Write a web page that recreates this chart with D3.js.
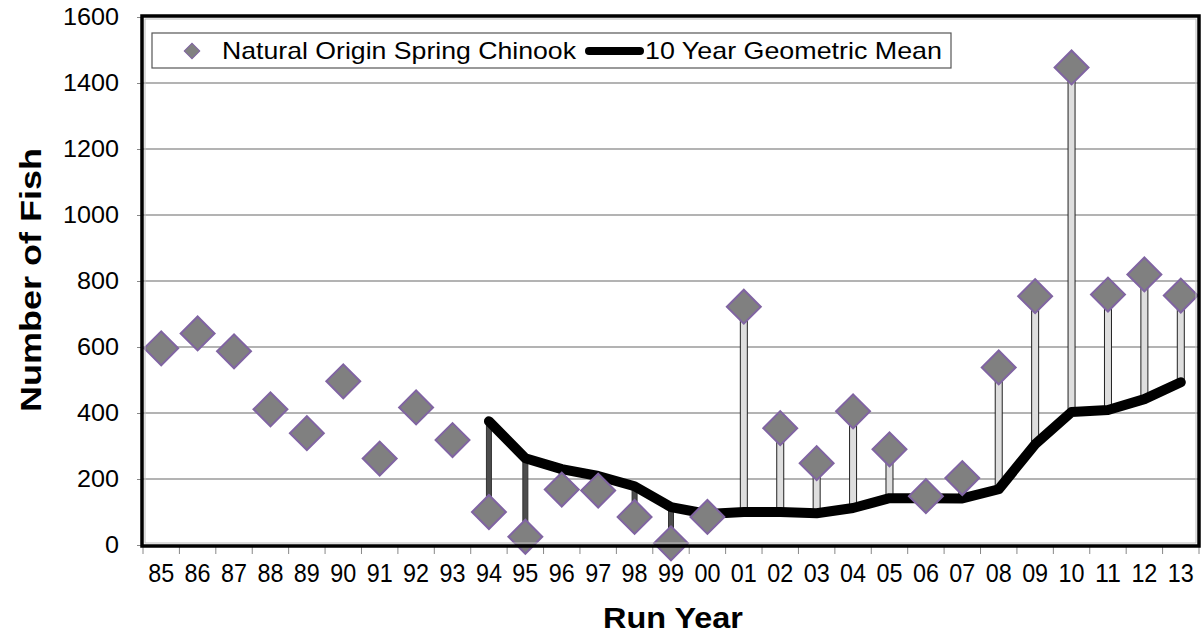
<!DOCTYPE html>
<html><head><meta charset="utf-8">
<script src="https://cdn.jsdelivr.net/npm/d3@7"></script>
<style>body{margin:0;background:#fff}svg{display:block}text{font-family:"Liberation Sans",Arial,sans-serif}</style>
</head><body><svg id="c" width="1203" height="634"></svg>
<script>
const years = ["85","86","87","88","89","90","91","92","93","94","95","96","97","98","99","00","01","02","03","04","05","06","07","08","09","10","11","12","13"];
const counts = [596,641,587,411,339,496,262,417,318,100,25,168,165,85,5,85,722,354,248,405,290,148,203,538,754,1447,759,820,756];
const geoMean = [null,null,null,null,null,null,null,null,null,375,263,230,209,178,115,94,100,100,96,112,142,142,141,169,305,403,409,442,493];
const yTicks = [0,200,400,600,800,1000,1200,1400,1600];
const seriesNames = ["Natural Origin Spring Chinook","10 Year Geometric Mean"];

const svg = d3.select("#c");
const L = 143, R = 1199, T = 17, B = 545;
const x = d3.scaleBand().domain(years).range([L, R]).paddingInner(0).paddingOuter(0);
const y = d3.scaleLinear().domain([0,1600]).range([B, T]);
const cx = d => x(d) + x.bandwidth()/2;

// gridlines
svg.append("g").selectAll("line").data(yTicks.filter(v=>v>0&&v<1600)).join("line")
  .attr("x1", L).attr("x2", R).attr("y1", d=>y(d)).attr("y2", d=>y(d))
  .attr("stroke", "#9a9a9a").attr("stroke-width", 1.3);

// y axis
const ya = svg.append("g").attr("transform", `translate(${L},0)`)
  .call(d3.axisLeft(y).tickValues(yTicks).tickSize(6).tickPadding(18).tickFormat(d3.format("d")));
ya.select(".domain").remove();
ya.selectAll("line").attr("stroke", "#888");
ya.selectAll("text").attr("font-size", 24).attr("fill", "#000")
  .attr("textLength", d => String(d).length * 14).attr("lengthAdjust","spacingAndGlyphs");

// x axis
const xa = svg.append("g").attr("transform", `translate(0,${B})`);
xa.selectAll("line").data(d3.range(years.length+1)).join("line")
  .attr("x1", i => L + i*x.bandwidth()).attr("x2", i => L + i*x.bandwidth())
  .attr("y1", 0).attr("y2", 9).attr("stroke", "#888");
xa.selectAll("text").data(years).join("text")
  .attr("x", d => cx(d)).attr("y", 37).attr("text-anchor","middle")
  .attr("font-size", 25).attr("fill","#000")
  .attr("textLength", 26).attr("lengthAdjust","spacingAndGlyphs").text(d=>d);

// bars between mean and count
const idx = d3.range(years.length).filter(i => geoMean[i] != null);
svg.append("g").selectAll("rect").data(idx).join("rect")
  .attr("x", i => cx(years[i]) - (counts[i] > geoMean[i] ? 3.5 : 2.5))
  .attr("width", i => counts[i] > geoMean[i] ? 7 : 5)
  .attr("y", i => y(Math.max(counts[i], geoMean[i])))
  .attr("height", i => Math.abs(y(counts[i]) - y(geoMean[i])))
  .attr("fill", i => counts[i] > geoMean[i] ? "#dedede" : "#4d4d4d")
  .attr("stroke", i => counts[i] > geoMean[i] ? "#222" : "#333")
  .attr("stroke-width", 1);

// mean line
const line = d3.line().defined(d => d.v != null).x(d => cx(d.k)).y(d => y(d.v));
svg.append("path").datum(years.map((k,i)=>({k, v: geoMean[i]})))
  .attr("d", line).attr("fill","none").attr("stroke","#000").attr("stroke-width",10)
  .attr("stroke-linejoin","round").attr("stroke-linecap","round");

// diamonds
const dia = d3.symbol().type(d3.symbolSquare).size(24*24);
svg.append("g").selectAll("path").data(years.map((k,i)=>({k, v: counts[i]}))).join("path")
  .attr("d", dia).attr("transform", d => `translate(${cx(d.k)},${y(d.v)}) rotate(45)`)
  .attr("fill","#808080").attr("stroke","#8064a2").attr("stroke-width",2);

// plot border
svg.append("rect").attr("x", L-1).attr("y", T-1).attr("width", R-L+1).attr("height", B-T+2)
  .attr("fill","none").attr("stroke","#000").attr("stroke-width",3.5);
svg.append("rect").attr("x", L+2).attr("y", T+2).attr("width", R-L-5).attr("height", B-T-4)
  .attr("fill","none").attr("stroke","#bbb").attr("stroke-width",1);

// legend
const lg = svg.append("g");
lg.append("rect").attr("x",152).attr("y",33).attr("width",799).attr("height",35)
  .attr("fill","#fff").attr("stroke","#555").attr("stroke-width",1.2);
lg.append("path").attr("d", d3.symbol().type(d3.symbolSquare).size(11*11))
  .attr("transform","translate(192,51) rotate(45)").attr("fill","#808080").attr("stroke","#8064a2").attr("stroke-width",1);
lg.append("text").attr("x",222).attr("y",59).attr("font-size",24)
  .attr("textLength",354).attr("lengthAdjust","spacingAndGlyphs").text(seriesNames[0]);
lg.append("line").attr("x1",589).attr("x2",640).attr("y1",51).attr("y2",51)
  .attr("stroke","#000").attr("stroke-width",8).attr("stroke-linecap","round");
lg.append("text").attr("x",645).attr("y",59).attr("font-size",24)
  .attr("textLength",297).attr("lengthAdjust","spacingAndGlyphs").text(seriesNames[1]);

// axis titles
svg.append("text").attr("x", 673).attr("y", 628).attr("text-anchor","middle")
  .attr("font-size",30).attr("font-weight","bold")
  .attr("textLength",140).attr("lengthAdjust","spacingAndGlyphs").text("Run Year");
svg.append("text").attr("transform","translate(41,280) rotate(-90)").attr("text-anchor","middle")
  .attr("font-size",30).attr("font-weight","bold")
  .attr("textLength",264).attr("lengthAdjust","spacingAndGlyphs").text("Number of Fish");
</script></body></html>
